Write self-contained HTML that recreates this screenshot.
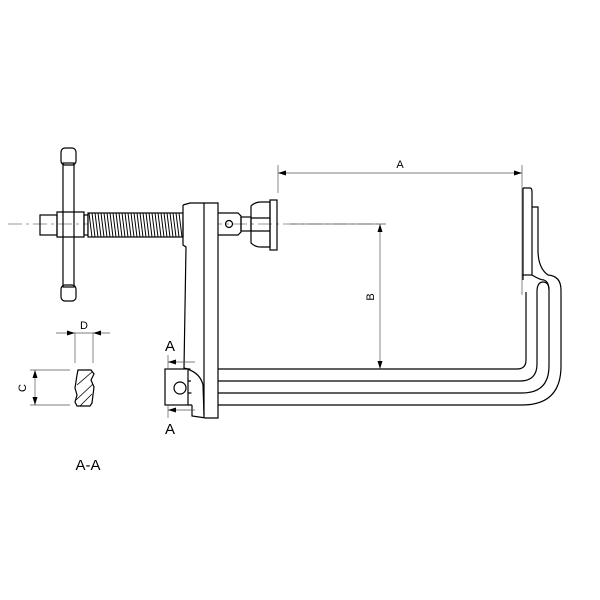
<!DOCTYPE html>
<html><head><style>body{margin:0;background:#fff}svg{display:block}</style></head><body>
<svg width="600" height="600" viewBox="0 0 600 600" xmlns="http://www.w3.org/2000/svg" font-family="Liberation Sans, sans-serif">
<g fill="none" stroke="#000" stroke-width="1.2">
<!-- centerline -->
<line x1="8" y1="224" x2="385" y2="224" stroke="#777" stroke-width="0.7" stroke-dasharray="14,4,3,4"/>
<!-- T handle -->
<rect x="63" y="163" width="11" height="124"/>
<rect x="61" y="148" width="15" height="17" rx="4"/>
<rect x="61" y="285" width="15" height="16" rx="4"/>
<rect x="40" y="215" width="17" height="20"/>
<path d="M57,212 H84 V237 H57 Z"/>
<rect x="84" y="215" width="4" height="20"/>
<!-- thread -->
<rect x="88" y="213" width="95" height="24" fill="#fff"/>
<path d="M89,213 l3,24 m0,-24 l3,24 m0,-24 l3,24 m0,-24 l3,24 m0,-24 l3,24 m0,-24 l3,24 m0,-24 l3,24 m0,-24 l3,24 m0,-24 l3,24 m0,-24 l3,24 m0,-24 l3,24 m0,-24 l3,24 m0,-24 l3,24 m0,-24 l3,24 m0,-24 l3,24 m0,-24 l3,24 m0,-24 l3,24 m0,-24 l3,24 m0,-24 l3,24 m0,-24 l3,24 m0,-24 l3,24 m0,-24 l3,24 m0,-24 l3,24 m0,-24 l3,24 m0,-24 l3,24 m0,-24 l3,24 m0,-24 l3,24 m0,-24 l3,24 m0,-24 l3,24 m0,-24 l3,24 m0,-24 l3,24" stroke-width="1"/>
<!-- bars -->
<path d="M185,369 H517 Q526,369 526,360 V292"/>
<path d="M188,381 H520 Q537,381 537,364 V292"/>
<path d="M188,393 H522 Q549,393 549,366 V290 Q549,282 544,280"/>
<path d="M188,405 H522 Q561,405 561,366 V290 Q561,276 548,275 Q538,268 538,250 V207 H532"/>
<path d="M523,188 H530 Q532,188 532,192 V275 Q540,280 544,280"/>
<path d="M523,188 V280"/>
<path d="M522,275 H532"/>
<path d="M537,292 Q537,282 543,282 Q549,282 549,290"/>
<!-- frame head -->
<path d="M183,205 L190,203 H218 V418 H206 L192,416 V405" fill="#fff"/>
<path d="M183,205 V245 L186,247 L184,368 Q200,372 203,385 L204,415" fill="none"/>
<path d="M204,203 V418"/>
<!-- section near head -->
<rect x="165" y="369" width="23" height="36" fill="#fff"/>
<circle cx="180" cy="388" r="6"/>
<!-- spindle & nut -->
<path d="M218,213 H238 L241,216 V232 L238,235 H218"/>
<circle cx="229" cy="224" r="3.5"/>
<rect x="241" y="217" width="10" height="14"/>
<path d="M251,206 Q255,202 261,202 H270 V247 H261 Q255,247 251,243 Z"/>
<path d="M251,218 H270 M251,231 H270"/>
<rect x="270" y="200" width="7" height="50"/>
<!-- left section -->
<path d="M78,370 H91 L94,374 L91,380 L94,387 L92,403 L90,406 H77 L75,402 L77,395 L75,388 L77,375 Z"/>
<path d="M77,385 L92,372 M76,400 L93,384 M80,406 L92,394" stroke-width="0.8"/>
</g>
<g fill="none" stroke="#555" stroke-width="0.7">
<line x1="278" y1="165" x2="278" y2="193"/>
<line x1="522" y1="165" x2="522" y2="295"/>
<line x1="278" y1="173" x2="522" y2="173"/>
<line x1="290" y1="224" x2="386" y2="224"/>
<line x1="380" y1="224" x2="380" y2="369"/>
<line x1="75" y1="333" x2="75" y2="363"/><line x1="93" y1="333" x2="93" y2="363"/>
<line x1="56" y1="333" x2="110" y2="333"/>
<line x1="30" y1="370" x2="70" y2="370"/><line x1="30" y1="405" x2="70" y2="405"/>
<line x1="35" y1="370" x2="35" y2="405"/>
<line x1="168" y1="355" x2="168" y2="369"/><line x1="168" y1="405" x2="168" y2="418"/>
<line x1="168" y1="362" x2="195" y2="362"/><line x1="168" y1="410" x2="195" y2="410"/>
</g>
<g fill="#000">
<path d="M278,173 l8,-2.5 v5z"/><path d="M522,173 l-8,-2.5 v5z"/>
<path d="M380,224 l-2.5,8 h5z"/><path d="M380,369 l-2.5,-8 h5z"/>
<path d="M75,333 l-8,-2.5 v5z"/><path d="M93,333 l8,-2.5 v5z"/>
<path d="M35,370 l-2.5,8 h5z"/><path d="M35,405 l-2.5,-8 h5z"/>
<path d="M168,362 l8,-2.5 v5z"/><path d="M168,410 l8,-2.5 v5z"/>
</g>
<g font-size="11" fill="#000">
<text x="400" y="168" text-anchor="middle">A</text>
<text x="84" y="329" text-anchor="middle">D</text>
<text transform="translate(374,297) rotate(-90)" text-anchor="middle">B</text>
<text transform="translate(26,388) rotate(-90)" text-anchor="middle">C</text>
<text x="170" y="351" font-size="15" text-anchor="middle">A</text>
<text x="170" y="434" font-size="15" text-anchor="middle">A</text>
<text x="88" y="470" font-size="15" text-anchor="middle">A-A</text>
</g>
</svg>
</body></html>
